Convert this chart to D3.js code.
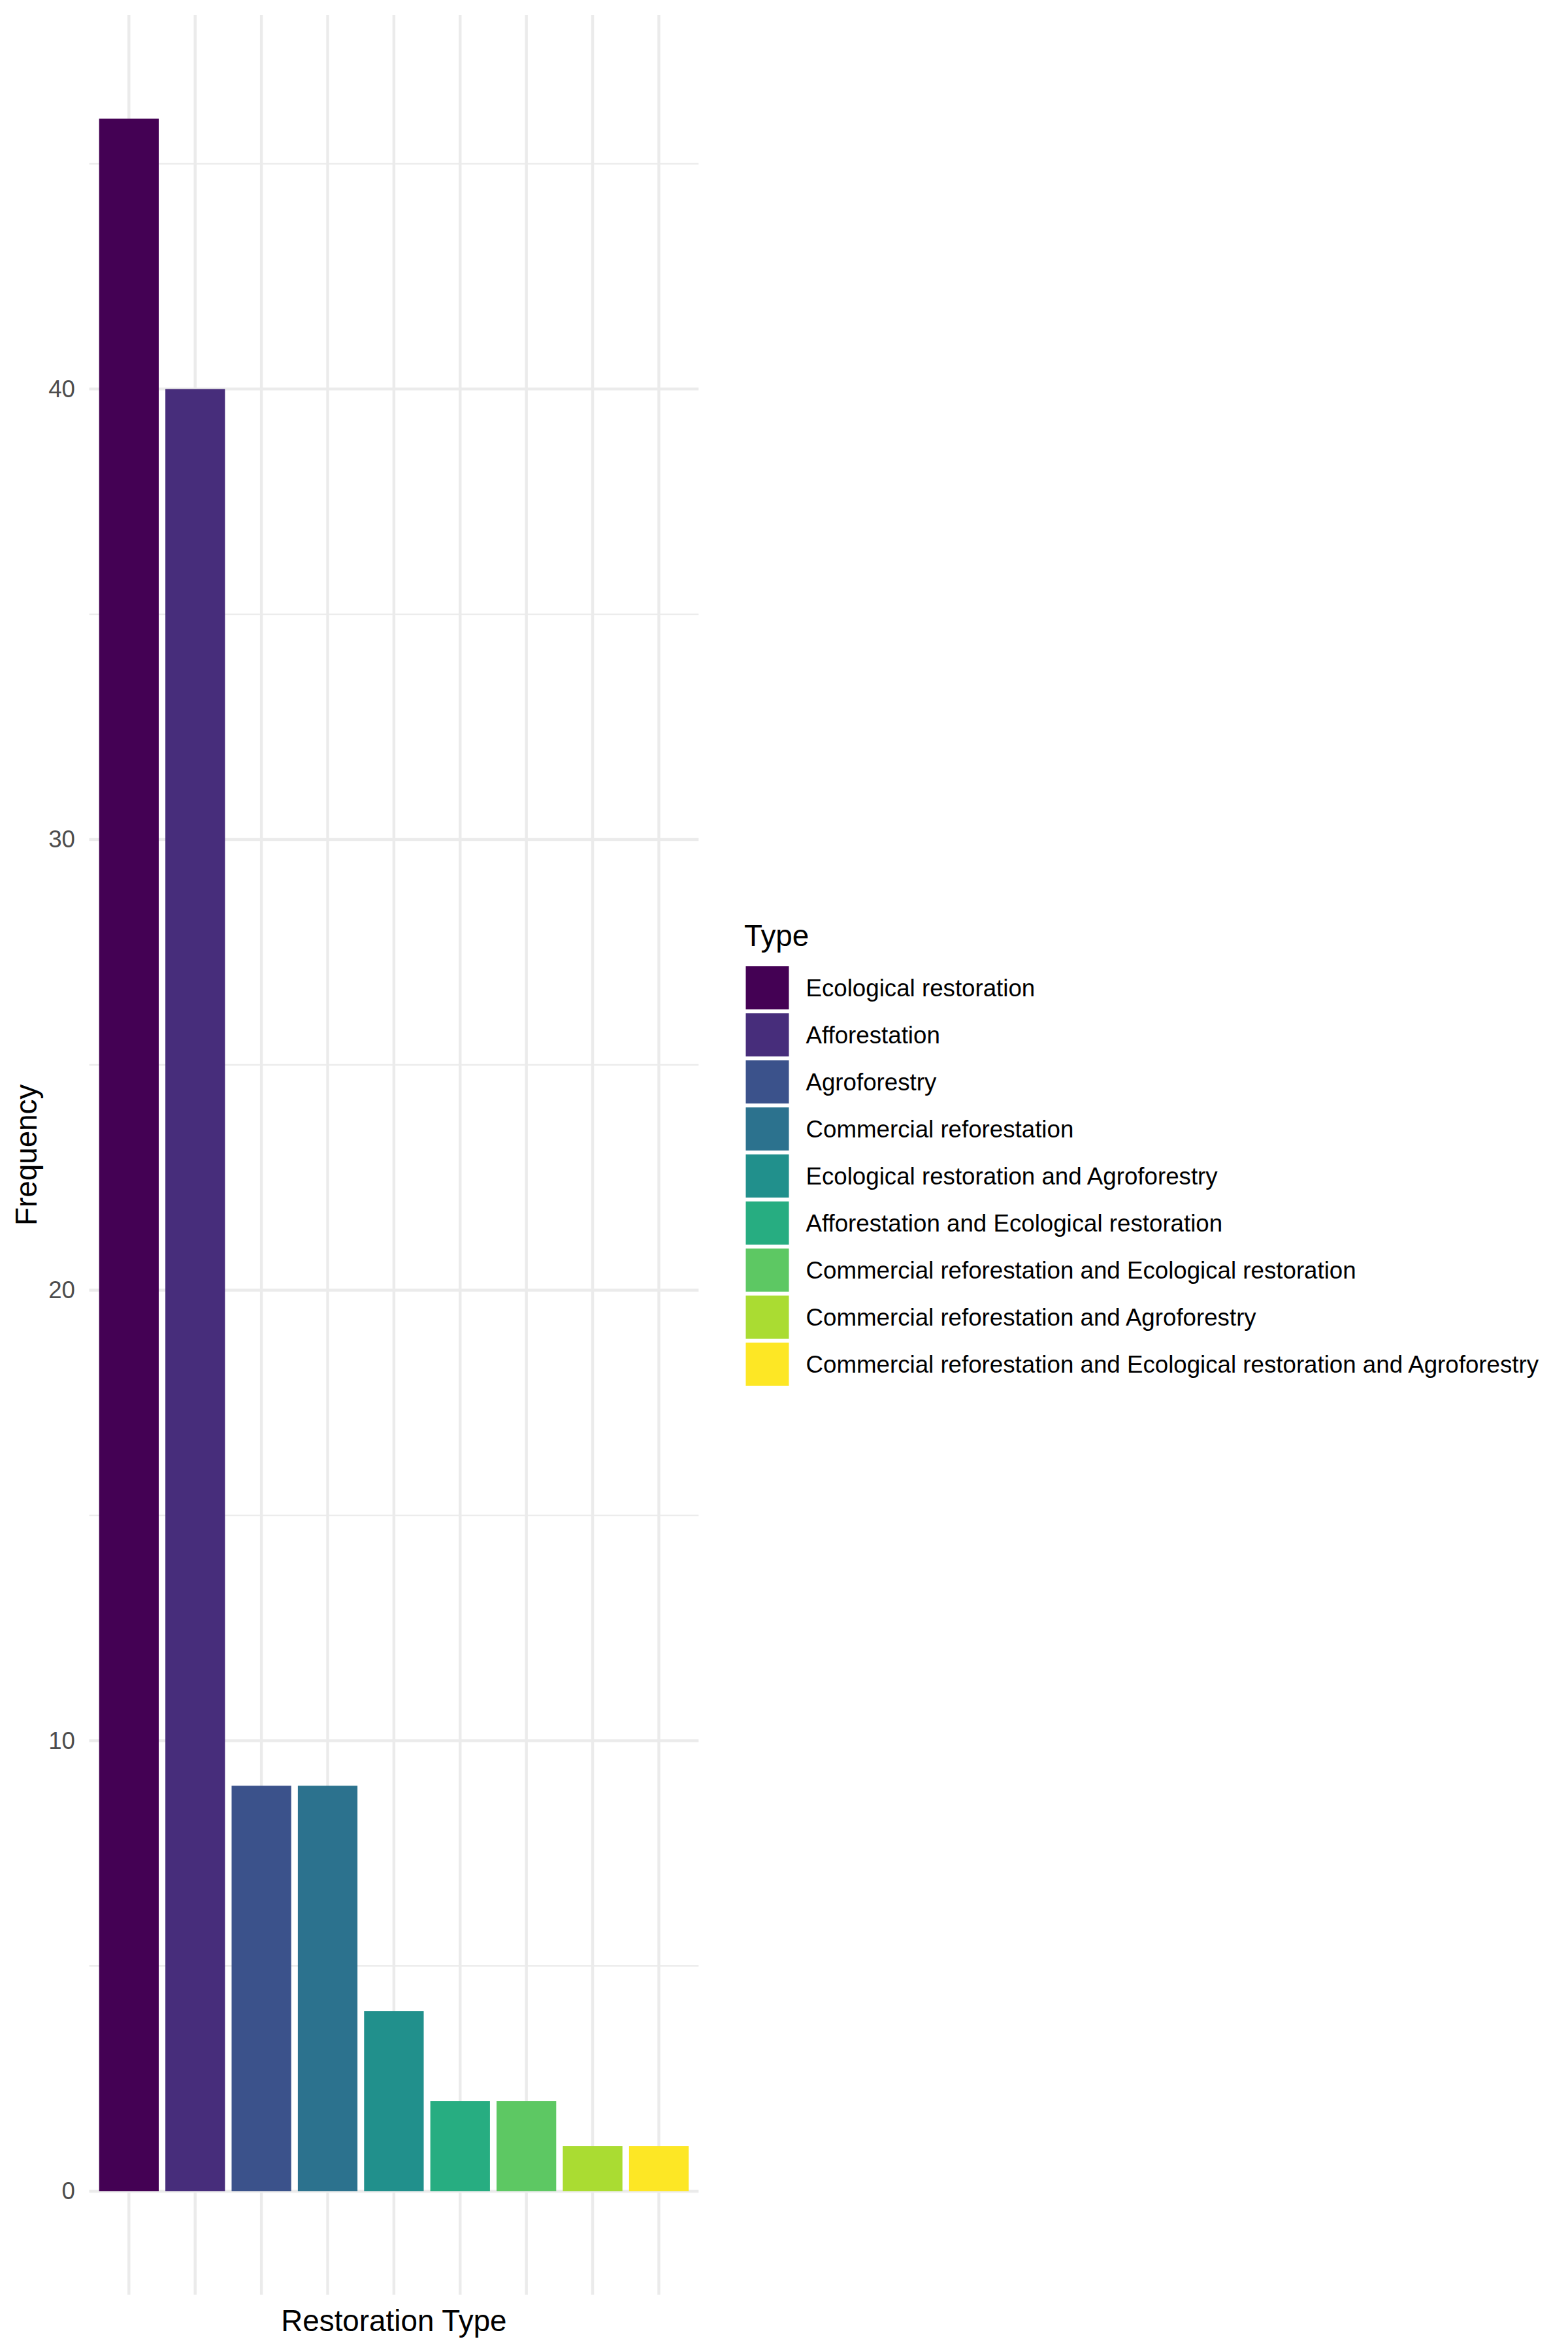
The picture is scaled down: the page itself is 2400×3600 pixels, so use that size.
<!DOCTYPE html>
<html>
<head>
<meta charset="utf-8">
<script src="https://cdn.jsdelivr.net/npm/d3@7"></script>
<style>
  html, body { margin: 0; padding: 0; background: #ffffff; }
  svg { display: block; }
  text { font-family: "Liberation Sans", Arial, Helvetica, sans-serif; }
</style>
</head>
<body>
<svg id="chart" width="2400" height="3600"></svg>
<script>
// ---- data ----
const categories = [
  "Ecological restoration",
  "Afforestation",
  "Agroforestry",
  "Commercial reforestation",
  "Ecological restoration and Agroforestry",
  "Afforestation and Ecological restoration",
  "Commercial reforestation and Ecological restoration",
  "Commercial reforestation and Agroforestry",
  "Commercial reforestation and Ecological restoration and Agroforestry"
];
const frequencies = [46, 40, 9, 9, 4, 2, 2, 1, 1];
const colors = ["#440154", "#472D7B", "#3B528B", "#2C728E", "#21908C", "#27AD81", "#5DC863", "#AADC32", "#FDE725"];
const yMajorTicks = [0, 10, 20, 30, 40];
const yMinorTicks = [5, 15, 25, 35, 45];

// ---- layout ----
const W = 2400, H = 3600;
const panel = { left: 136.5, right: 1069.3, top: 23, bottom: 3512.6 };
const axisTextSize = 36.7, titleSize = 45.8;
const gridColor = "#EBEBEB";

const svg = d3.select("#chart");
svg.append("rect").attr("width", W).attr("height", H).attr("fill", "#ffffff");

const maxV = d3.max(frequencies);
const pad = maxV * 0.05;
const y = d3.scaleLinear().domain([0 - pad, maxV + pad]).range([panel.bottom, panel.top]);
const x = d3.scaleBand().domain(categories).range([panel.left, panel.right])
  .paddingInner(0.1).paddingOuter(0.15);
const color = d3.scaleOrdinal().domain(categories).range(colors);

// grid
const grid = svg.append("g");
grid.selectAll("line.minor").data(yMinorTicks).join("line")
  .attr("x1", panel.left).attr("x2", panel.right)
  .attr("y1", d => y(d)).attr("y2", d => y(d))
  .attr("stroke", gridColor).attr("stroke-width", 2.2);
grid.selectAll("line.major").data(yMajorTicks).join("line")
  .attr("x1", panel.left).attr("x2", panel.right)
  .attr("y1", d => y(d)).attr("y2", d => y(d))
  .attr("stroke", gridColor).attr("stroke-width", 4.4);
grid.selectAll("line.vert").data(categories).join("line")
  .attr("x1", d => x(d) + x.bandwidth() / 2).attr("x2", d => x(d) + x.bandwidth() / 2)
  .attr("y1", panel.top).attr("y2", panel.bottom)
  .attr("stroke", gridColor).attr("stroke-width", 4.4);

// bars
svg.append("g").selectAll("rect").data(categories).join("rect")
  .attr("x", d => x(d))
  .attr("width", x.bandwidth())
  .attr("y", (d, i) => y(frequencies[i]))
  .attr("height", (d, i) => y(0) - y(frequencies[i]))
  .attr("fill", d => color(d));

// y axis labels
const yAxis = d3.axisLeft(y).tickValues(yMajorTicks).tickSize(0).tickPadding(21.5);
const gy = svg.append("g").attr("transform", `translate(${panel.left},0)`).call(yAxis);
gy.select(".domain").remove();
gy.selectAll("text")
  .attr("font-family", "'Liberation Sans', Arial, sans-serif")
  .attr("font-size", axisTextSize).attr("fill", "#4D4D4D");

// axis titles
svg.append("text")
  .attr("x", (panel.left + panel.right) / 2).attr("y", 3568)
  .attr("text-anchor", "middle").attr("font-size", titleSize).attr("fill", "#000000")
  .text("Restoration Type");
svg.append("text")
  .attr("transform", `translate(56,${(panel.top + panel.bottom) / 2}) rotate(-90)`)
  .attr("text-anchor", "middle").attr("font-size", titleSize).attr("fill", "#000000")
  .text("Frequency");

// legend
const legend = svg.append("g").attr("transform", "translate(1141.5,0)");
legend.append("text").attr("x", -2.5).attr("y", 1448)
  .attr("font-size", titleSize).attr("fill", "#000000").text("Type");
const keyTop = 1479, keyStep = 72, keySize = 66;
const items = legend.selectAll("g.item").data(categories).join("g")
  .attr("transform", (d, i) => `translate(0,${keyTop + i * keyStep})`);
items.append("rect").attr("width", keySize).attr("height", keySize)
  .attr("fill", d => color(d));
items.append("text").attr("x", 92).attr("y", keySize / 2 + 13)
  .attr("font-size", axisTextSize).attr("fill", "#000000")
  .text(d => d);
</script>
</body>
</html>
